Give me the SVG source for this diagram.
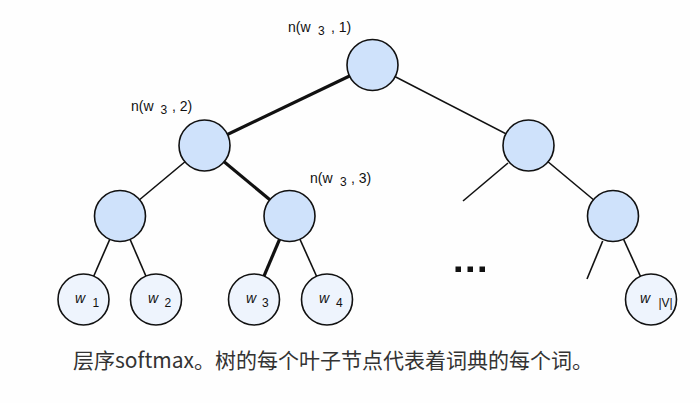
<svg xmlns="http://www.w3.org/2000/svg" width="700" height="403" viewBox="0 0 700 403">
<style>
.inner{fill:#cfe2fb;stroke:#111;stroke-width:1.6}
.leaf{fill:#eef4fd;stroke:#111;stroke-width:1.6}
.e{stroke:#111;stroke-width:1.6;fill:none}
.t{stroke:#111;stroke-width:3.2;fill:none}
.lbl{font-family:"Liberation Sans",Arial,sans-serif;font-size:14px;fill:#111}
.sub{font-size:12px}
.w{font-family:"Liberation Sans",Arial,sans-serif;font-size:14px;font-style:italic;fill:#111}
.cap{font-family:"Noto Sans CJK SC","Noto Sans",sans-serif;font-size:21px;fill:#333}
</style>
<rect width="700" height="403" fill="#fefefe"/>
<g id="connectors">
<line class="t" x1="372.5" y1="65" x2="204.5" y2="145.5"/>
<line class="e" x1="372.5" y1="65" x2="528.5" y2="145.5"/>
<line class="e" x1="204.5" y1="145.5" x2="120" y2="216"/>
<line class="t" x1="204.5" y1="145.5" x2="289.5" y2="216"/>
<line class="e" x1="120" y1="216" x2="83.5" y2="299.5"/>
<line class="e" x1="120" y1="216" x2="156" y2="299.5"/>
<line class="t" x1="289.5" y1="216" x2="254" y2="299.5"/>
<line class="e" x1="289.5" y1="216" x2="327" y2="299.5"/>
<line class="e" x1="508" y1="163" x2="463" y2="201"/>
<line class="e" x1="528.5" y1="145.5" x2="613" y2="216"/>
<line class="e" x1="602.7" y1="241" x2="587" y2="279"/>
<line class="e" x1="613" y1="216" x2="651" y2="299.5"/>
</g>
<g id="root"><circle class="inner" cx="372.5" cy="65" r="25.5"/>
<text class="lbl" x="288" y="32">n(w<tspan class="sub" x="318" y="35">3</tspan><tspan x="331" y="32">, 1)</tspan></text></g>
<g id="n2"><circle class="inner" cx="204.5" cy="145.5" r="25.5"/>
<text class="lbl" x="131" y="111">n(w<tspan class="sub" x="160.5" y="114">3</tspan><tspan x="172" y="111">, 2)</tspan></text></g>
<g id="nR"><circle class="inner" cx="528.5" cy="145.5" r="25.5"/></g>
<g id="n3a"><circle class="inner" cx="120" cy="216" r="25.5"/></g>
<g id="n3"><circle class="inner" cx="289.5" cy="216" r="25.5"/>
<text class="lbl" x="310" y="183">n(w<tspan class="sub" x="340" y="186">3</tspan><tspan x="351" y="183">, 3)</tspan></text></g>
<g id="nR3"><circle class="inner" cx="613" cy="216" r="25.5"/></g>
<g id="w1"><circle class="leaf" cx="83.5" cy="299.5" r="25.5"/><text class="w" x="75" y="303">w</text><text class="lbl sub" x="92.5" y="307">1</text></g>
<g id="w2"><circle class="leaf" cx="156" cy="299.5" r="25.5"/><text class="w" x="148" y="303">w</text><text class="lbl sub" x="164.5" y="307">2</text></g>
<g id="w3"><circle class="leaf" cx="254" cy="299.5" r="25.5"/><text class="w" x="246" y="303">w</text><text class="lbl sub" x="262" y="307">3</text></g>
<g id="w4"><circle class="leaf" cx="327" cy="299.5" r="25.5"/><text class="w" x="319" y="303">w</text><text class="lbl sub" x="336" y="307">4</text></g>
<g id="wV"><circle class="leaf" cx="651" cy="299.5" r="25.5"/><text class="w" x="640" y="303">w</text><text class="lbl sub" x="658.5" y="307">|V|</text></g>
<g id="dots" fill="#111"><rect x="455.5" y="266.5" width="5.5" height="5.5"/><rect x="467.5" y="266.5" width="5.5" height="5.5"/><rect x="479.5" y="266.5" width="5.5" height="5.5"/></g>
<text class="cap" x="73" y="368">层序softmax。树的每个叶子节点代表着词典的每个词。</text>
</svg>
